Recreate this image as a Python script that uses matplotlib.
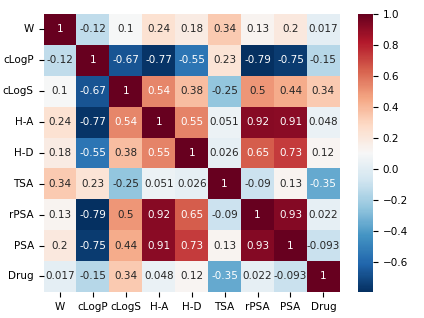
import numpy as np
import matplotlib
matplotlib.use("Agg")
import matplotlib.pyplot as plt
import seaborn as sns
import pandas as pd

labels = ["W", "cLogP", "cLogS", "H-A", "H-D", "TSA", "rPSA", "PSA", "Drug"]
row_W     = [1, -0.12, 0.1, 0.24, 0.18, 0.34, 0.13, 0.2, 0.017]
row_cLogP = [-0.12, 1, -0.67, -0.77, -0.55, 0.23, -0.79, -0.75, -0.15]
row_cLogS = [0.1, -0.67, 1, 0.54, 0.38, -0.25, 0.5, 0.44, 0.34]
row_HA    = [0.24, -0.77, 0.54, 1, 0.55, 0.051, 0.92, 0.91, 0.048]
row_HD    = [0.18, -0.55, 0.38, 0.55, 1, 0.026, 0.65, 0.73, 0.12]
row_TSA   = [0.34, 0.23, -0.25, 0.051, 0.026, 1, -0.09, 0.13, -0.35]
row_rPSA  = [0.13, -0.79, 0.5, 0.92, 0.65, -0.09, 1, 0.93, 0.022]
row_PSA   = [0.2, -0.75, 0.44, 0.91, 0.73, 0.13, 0.93, 1, -0.093]
row_Drug  = [0.017, -0.15, 0.34, 0.048, 0.12, -0.35, 0.022, -0.093, 1]

data = pd.DataFrame([row_W, row_cLogP, row_cLogS, row_HA, row_HD,
                     row_TSA, row_rPSA, row_PSA, row_Drug],
                    index=labels, columns=labels)

fig = plt.figure(figsize=(4.24, 3.18), dpi=100)
ax = fig.add_axes([0.1026, 0.082, 0.699, 0.874])
cax = fig.add_axes([0.845, 0.082, 0.034, 0.874])
sns.heatmap(data, annot=True, cmap="RdBu_r", ax=ax, cbar_ax=cax,
            annot_kws={"fontsize": 7.5})
ax.tick_params(labelsize=7.5)
cax.tick_params(labelsize=7.5)
plt.setp(ax.get_yticklabels(), rotation=0)
plt.setp(ax.get_xticklabels(), rotation=0)
fig.savefig("out.png", dpi=100)
